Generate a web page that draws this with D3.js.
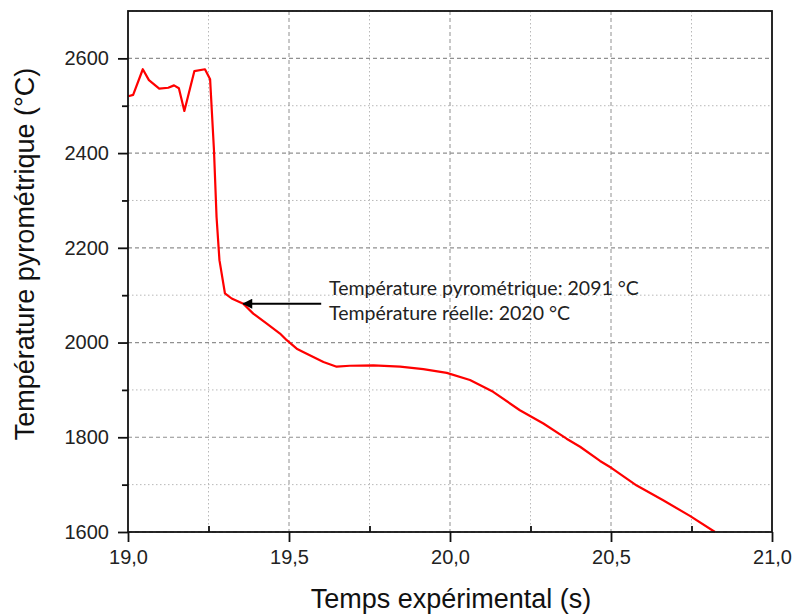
<!DOCTYPE html>
<html><head><meta charset="utf-8">
<script src="https://cdn.jsdelivr.net/npm/d3@7"></script>
<style>body{margin:0;background:#fff}svg{display:block}</style>
</head><body>
<svg id="c" width="796" height="614"></svg>
<script>
const timeS = [19.001,19.016,19.046,19.065,19.097,19.125,19.143,19.158,19.175,19.206,19.239,19.255,19.267,19.275,19.284,19.301,19.322,19.358,19.389,19.431,19.472,19.493,19.524,19.544,19.607,19.648,19.689,19.762,19.845,19.917,19.990,20.062,20.134,20.217,20.290,20.362,20.404,20.466,20.502,20.580,20.662,20.745,20.823];
const tempC = [2520,2523,2577,2554,2536,2538,2543,2537,2489,2573,2577,2556,2406,2265,2174,2104,2093,2082,2061,2040,2019,2005,1987,1980,1959,1949,1951,1952,1949,1944,1936,1921,1896,1857,1829,1797,1780,1750,1735,1698,1667,1634,1600];
const xTicks = [19.0,19.5,20.0,20.5,21.0];
const xMinor = [19.25,19.75,20.25,20.75];
const yTicks = [1600,1800,2000,2200,2400,2600];
const yMinor = [1700,1900,2100,2300,2500,2700];
const annotation = ["Température pyrométrique: 2091 °C","Température réelle: 2020 °C"];
const arrowFrom = {t:19.6, T:2082};
const arrowTo = {t:19.358, T:2082};

const svg = d3.select("#c");
const L=128, R=772, T=11, B=532;
const x = d3.scaleLinear().domain([19,21]).range([L,R]);
const y = d3.scaleLinear().domain([1600,2700]).range([B,T]);
const fmt = d => d.toFixed(1).replace(".", ",");
const FONT = "'Liberation Sans', Arial, sans-serif";

// grid
const g = svg.append("g");
g.selectAll(".vmin").data(xMinor).join("line").attr("x1",d=>x(d)).attr("x2",d=>x(d)).attr("y1",T).attr("y2",B)
 .attr("stroke","#b8b8b8").attr("stroke-width",1).attr("stroke-dasharray","1.5,2.5");
g.selectAll(".hmin").data(yMinor).join("line").attr("y1",d=>y(d)).attr("y2",d=>y(d)).attr("x1",L).attr("x2",R)
 .attr("stroke","#b8b8b8").attr("stroke-width",1).attr("stroke-dasharray","1.5,2.5");
g.selectAll(".vmaj").data(xTicks.slice(1,-1)).join("line").attr("x1",d=>x(d)).attr("x2",d=>x(d)).attr("y1",T).attr("y2",B)
 .attr("stroke","#909090").attr("stroke-width",1).attr("stroke-dasharray","4,3");
g.selectAll(".hmaj").data(yTicks).join("line").attr("y1",d=>y(d)).attr("y2",d=>y(d)).attr("x1",L).attr("x2",R)
 .attr("stroke","#909090").attr("stroke-width",1.2).attr("stroke-dasharray","4,3");

// curve
const line = d3.line().x((d,i)=>x(timeS[i])).y(d=>y(d));
svg.append("path").attr("d", line(tempC)).attr("fill","none").attr("stroke","#ff0000").attr("stroke-width",2.2).attr("stroke-linejoin","round");

// frame
svg.append("rect").attr("x",L).attr("y",T).attr("width",R-L).attr("height",B-T).attr("fill","none").attr("stroke","#111").attr("stroke-width",1.8);

// axes
const xa = svg.append("g").attr("transform",`translate(0,${B})`)
  .call(d3.axisBottom(x).tickValues(xTicks).tickFormat(fmt).tickSize(10).tickPadding(5));
const xm = svg.append("g").attr("transform",`translate(0,${B})`)
  .call(d3.axisBottom(x).tickValues(xMinor).tickFormat("").tickSize(-6));
const ya = svg.append("g").attr("transform",`translate(${L},0)`)
  .call(d3.axisLeft(y).tickValues(yTicks).tickFormat(d3.format("d")).tickSize(10).tickPadding(9));
const ym = svg.append("g").attr("transform",`translate(${L},0)`)
  .call(d3.axisLeft(y).tickValues(yMinor.filter(v=>v<2700)).tickFormat("").tickSize(6));
[xa,xm,ya,ym].forEach(a=>{a.select(".domain").remove();a.selectAll("line").attr("stroke","#111").attr("stroke-width",1.8);
  a.selectAll("text").attr("font-family",FONT).attr("font-size",20).attr("fill","#222");});
xa.selectAll("text").attr("dy","0.85em");

// axis titles
svg.append("text").attr("x",451).attr("y",608).attr("text-anchor","middle")
 .attr("font-family",FONT).attr("font-size",27).attr("fill","#111").text("Temps expérimental (s)");
svg.append("text").attr("transform",`translate(34,254) rotate(-90)`).attr("text-anchor","middle")
 .attr("font-family",FONT).attr("font-size",27).attr("fill","#111").text("Température pyrométrique (°C)");

// annotation
svg.append("defs").append("marker").attr("id","ah").attr("viewBox","0 0 10 10").attr("refX",9).attr("refY",5)
 .attr("markerWidth",6).attr("markerHeight",5).attr("orient","auto").attr("markerUnits","strokeWidth")
 .append("path").attr("d","M0,0 L10,5 L0,10 Z").attr("fill","#000");
svg.append("line").attr("x1",x(arrowFrom.t)).attr("y1",y(arrowFrom.T)).attr("x2",x(arrowTo.t)).attr("y2",y(arrowTo.T))
 .attr("stroke","#000").attr("stroke-width",2).attr("marker-end","url(#ah)");
svg.selectAll(".ann").data(annotation).join("text").attr("x",329).attr("y",(d,i)=>295+i*25)
 .attr("font-family","Lato, 'Open Sans', sans-serif").attr("font-size",19.5).attr("fill","#222").text(d=>d);
</script>
</body></html>
